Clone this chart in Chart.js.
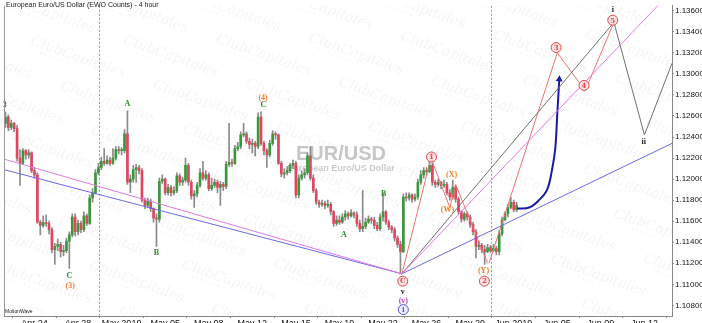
<!DOCTYPE html>
<html>
<head>
<meta charset="utf-8">
<script src="https://cdn.jsdelivr.net/npm/chart.js@4.4.1/dist/chart.umd.min.js"></script>
<style>
  html, body { margin: 0; padding: 0; background: #fff; overflow: hidden; }
  canvas { display: block; }
</style>
</head>
<body>
<canvas id="chart" width="702" height="323"></canvas>
<script>
// EUR/USD 4h candles (open of each bar = previous close)
const firstOpen = 1.1253;
const closes = [
  1.1259, 1.1249, 1.1253, 1.1248, 1.1220, 1.1215, 1.1227, 1.1223, 1.1225, 1.1208,
  1.1204, 1.1159, 1.1156, 1.1159, 1.1158, 1.1152, 1.1133, 1.1136, 1.1138, 1.1131,
  1.1132, 1.1141, 1.1147, 1.1164, 1.1150, 1.1158, 1.1152, 1.1165, 1.1158, 1.1182,
  1.1187, 1.1206, 1.1211, 1.1217, 1.1215, 1.1218, 1.1215, 1.1220, 1.1228, 1.1227,
  1.1227, 1.1243, 1.1197, 1.1200, 1.1209, 1.1211, 1.1208, 1.1180, 1.1175, 1.1179,
  1.1172, 1.1163, 1.1162, 1.1198, 1.1200, 1.1187, 1.1192, 1.1187, 1.1189, 1.1203,
  1.1197, 1.1199, 1.1213, 1.1197, 1.1184, 1.1186, 1.1194, 1.1206, 1.1201, 1.1204,
  1.1191, 1.1194, 1.1197, 1.1192, 1.1195, 1.1193, 1.1214, 1.1216, 1.1215, 1.1229,
  1.1231, 1.1242, 1.1243, 1.1236, 1.1233, 1.1234, 1.1231, 1.1259, 1.1234, 1.1227,
  1.1223, 1.1234, 1.1243, 1.1242, 1.1215, 1.1205, 1.1206, 1.1208, 1.1213, 1.1215,
  1.1185, 1.1201, 1.1204, 1.1206, 1.1222, 1.1201, 1.1189, 1.1178, 1.1176, 1.1177,
  1.1175, 1.1176, 1.1169, 1.1158, 1.1161, 1.1159, 1.1164, 1.1167, 1.1165, 1.1168,
  1.1166, 1.1158, 1.1153, 1.1155, 1.1159, 1.1162, 1.1161, 1.1156, 1.1153, 1.1164,
  1.1169, 1.1159, 1.1154, 1.1152, 1.1144, 1.1138, 1.1131, 1.1183, 1.1182, 1.1185,
  1.1181, 1.1183, 1.1197, 1.1204, 1.1208, 1.1207, 1.1213, 1.1197, 1.1195, 1.1197,
  1.1194, 1.1195, 1.1187, 1.1183, 1.1192, 1.1181, 1.1169, 1.1162, 1.1167, 1.1164,
  1.1157, 1.1150, 1.1136, 1.1137, 1.1133, 1.1131, 1.1135, 1.1132, 1.1134, 1.1131,
  1.1148, 1.1161, 1.1167, 1.1173, 1.1178, 1.1171, 1.1175
];
const highs = [
  1.1264, 1.1261, 1.1256, 1.1254, 1.1251, 1.1228, 1.1229, 1.1228, 1.1228, 1.1226,
  1.1211, 1.1206, 1.1161, 1.1165, 1.1166, 1.1160, 1.1154, 1.1139, 1.1143, 1.1140,
  1.1137, 1.1144, 1.1150, 1.1167, 1.1167, 1.1161, 1.1160, 1.1169, 1.1167, 1.1185,
  1.1191, 1.1209, 1.1215, 1.1221, 1.1229, 1.1222, 1.1221, 1.1229, 1.1231, 1.1231,
  1.1230, 1.1247, 1.1265, 1.1204, 1.1213, 1.1214, 1.1213, 1.1210, 1.1182, 1.1182,
  1.1181, 1.1173, 1.1167, 1.1201, 1.1204, 1.1201, 1.1195, 1.1194, 1.1193, 1.1206,
  1.1205, 1.1202, 1.1220, 1.1215, 1.1199, 1.1189, 1.1197, 1.1210, 1.1217, 1.1208,
  1.1206, 1.1201, 1.1200, 1.1199, 1.1198, 1.1197, 1.1217, 1.1253, 1.1219, 1.1232,
  1.1235, 1.1245, 1.1253, 1.1245, 1.1239, 1.1238, 1.1236, 1.1263, 1.1264, 1.1236,
  1.1229, 1.1237, 1.1246, 1.1245, 1.1243, 1.1217, 1.1210, 1.1212, 1.1215, 1.1218,
  1.1217, 1.1204, 1.1208, 1.1210, 1.1225, 1.1231, 1.1204, 1.1191, 1.1180, 1.1180,
  1.1179, 1.1180, 1.1178, 1.1170, 1.1165, 1.1165, 1.1167, 1.1170, 1.1169, 1.1171,
  1.1169, 1.1169, 1.1161, 1.1189, 1.1163, 1.1165, 1.1164, 1.1164, 1.1159, 1.1167,
  1.1187, 1.1170, 1.1161, 1.1156, 1.1154, 1.1146, 1.1141, 1.1186, 1.1187, 1.1187,
  1.1186, 1.1186, 1.1200, 1.1208, 1.1211, 1.1211, 1.1217, 1.1215, 1.1199, 1.1200,
  1.1198, 1.1199, 1.1197, 1.1190, 1.1199, 1.1194, 1.1183, 1.1170, 1.1169, 1.1169,
  1.1166, 1.1159, 1.1152, 1.1141, 1.1139, 1.1137, 1.1138, 1.1137, 1.1138, 1.1136,
  1.1151, 1.1164, 1.1169, 1.1176, 1.1183, 1.1180, 1.1178
];
const lows = [
  1.1249, 1.1246, 1.1247, 1.1245, 1.1217, 1.1194, 1.1214, 1.1219, 1.1220, 1.1206,
  1.1201, 1.1158, 1.1147, 1.1154, 1.1155, 1.1148, 1.1130, 1.1119, 1.1132, 1.1126,
  1.1127, 1.1130, 1.1115, 1.1145, 1.1146, 1.1147, 1.1149, 1.1150, 1.1156, 1.1157,
  1.1178, 1.1186, 1.1204, 1.1209, 1.1213, 1.1214, 1.1213, 1.1214, 1.1218, 1.1224,
  1.1223, 1.1225, 1.1195, 1.1187, 1.1197, 1.1197, 1.1205, 1.1178, 1.1172, 1.1173,
  1.1169, 1.1159, 1.1136, 1.1159, 1.1196, 1.1185, 1.1185, 1.1184, 1.1185, 1.1187,
  1.1194, 1.1194, 1.1197, 1.1194, 1.1181, 1.1173, 1.1183, 1.1192, 1.1199, 1.1199,
  1.1189, 1.1189, 1.1192, 1.1187, 1.1175, 1.1189, 1.1191, 1.1212, 1.1212, 1.1214,
  1.1227, 1.1229, 1.1240, 1.1234, 1.1229, 1.1225, 1.1222, 1.1229, 1.1232, 1.1223,
  1.1211, 1.1221, 1.1232, 1.1238, 1.1214, 1.1202, 1.1201, 1.1204, 1.1206, 1.1210,
  1.1182, 1.1182, 1.1199, 1.1201, 1.1204, 1.1199, 1.1187, 1.1176, 1.1173, 1.1174,
  1.1172, 1.1173, 1.1166, 1.1155, 1.1156, 1.1157, 1.1158, 1.1161, 1.1162, 1.1164,
  1.1163, 1.1155, 1.1150, 1.1150, 1.1153, 1.1158, 1.1158, 1.1153, 1.1151, 1.1151,
  1.1160, 1.1157, 1.1152, 1.1149, 1.1141, 1.1135, 1.1110, 1.1130, 1.1179, 1.1180,
  1.1178, 1.1179, 1.1181, 1.1195, 1.1201, 1.1204, 1.1206, 1.1194, 1.1192, 1.1193,
  1.1191, 1.1192, 1.1185, 1.1180, 1.1181, 1.1178, 1.1167, 1.1159, 1.1160, 1.1161,
  1.1154, 1.1147, 1.1125, 1.1133, 1.1130, 1.1119, 1.1130, 1.1130, 1.1131, 1.1128,
  1.1128, 1.1146, 1.1161, 1.1164, 1.1172, 1.1169, 1.1169
];

// axis text
const tickLabels = ['Apr 24', 'Apr 28', 'May 2019', 'May 05', 'May 08', 'May 12', 'May 15', 'May 19',
                    'May 22', 'May 26', 'May 29', 'Jun 2019', 'Jun 05', 'Jun 09', 'Jun 12'];
const firstTickBar = 10, barsPerTick = 15, totalBars = 230;
const yTicks = [1.108, 1.110, 1.112, 1.114, 1.116, 1.118, 1.120, 1.122, 1.124, 1.126, 1.128, 1.130, 1.132, 1.134, 1.136];
const yMin = 1.10699, yMax = 1.13647;

// wave count lines: bar index / price
const pinkX = [-0.5, 136.5, 229.5];
const pinkY = [1.1219, 1.1110, 1.1379];
const blueX = [-0.5, 136.5, 229.5];
const blueY = [1.1209, 1.1110, 1.1234];
const greyX = [136.5, 209.5, 220, 229.5];
const greyY = [1.1110, 1.1349, 1.1242, 1.1310];
const corrX = [136.5, 146.5, 153, 155, 166];
const corrY = [1.1110, 1.1220, 1.1173, 1.1195, 1.1120];
const impX = [166.5, 190, 199.6, 209.5];
const impY = [1.1120, 1.1320, 1.1284, 1.1349];
const arrowX = [176.2, 180.3, 183.7, 186.5, 188.2, 189.3, 190, 190.7];
const arrowY = [1.1172, 1.1173, 1.1180, 1.1190, 1.1209, 1.1229, 1.1262, 1.1295];

// labels: text, bar, price, colour, circled
const waveLabels = [
  ['3', -0.2, 1.1271, '#2e8b2e', false],
  ['A', 42, 1.1272, '#2e8b2e', false],
  ['B', 52, 1.1130, '#2e8b2e', false],
  ['C', 22, 1.1108, '#2e8b2e', false],
  ['(3)', 22.3, 1.1099, '#e8822a', false],
  ['(4)', 88.7, 1.1278, '#e8822a', false],
  ['C', 88.8, 1.1271, '#2e8b2e', false],
  ['A', 116.5, 1.1147, '#2e8b2e', false],
  ['B', 130.2, 1.1186, '#2e8b2e', false],
  ['C', 136.8, 1.1103, '#e04848', true],
  ['v', 136.8, 1.1093, '#222222', false],
  ['(v)', 137, 1.1085, '#c040c0', false],
  ['i', 137, 1.1076, '#5555dd', true],
  ['1', 146.7, 1.1221, '#e04848', true],
  ['(X)', 153.6, 1.1204, '#e8822a', false],
  ['(W)', 152.2, 1.1171, '#e8822a', false],
  ['(Y)', 164.6, 1.1113, '#e8822a', false],
  ['2', 164.9, 1.1103, '#e04848', true],
  ['3', 189.6, 1.1325, '#e04848', true],
  ['4', 199.2, 1.1289, '#e04848', true],
  ['5', 209.1, 1.1351, '#e04848', true],
  ['i', 209.1, 1.1361, '#222222', false],
  ['ii', 219.8, 1.1236, '#222222', false]
];

const opens = closes.map((c, i) => i === 0 ? firstOpen : closes[i - 1]);
const pts = (xs, ys) => xs.map((x, i) => ({ x: x, y: ys[i] }));

function lineSet(xs, ys, color, width) {
  return {
    type: 'line', data: pts(xs, ys), borderColor: color, borderWidth: width,
    pointRadius: 0, fill: false, tension: 0, order: 0
  };
}

const backdrop = {
  id: 'backdrop',
  beforeDatasetsDraw(chart) {
    const { ctx, chartArea: a } = chart;
    ctx.save();
    ctx.beginPath();
    ctx.rect(a.left, a.top, a.right - a.left, a.bottom - a.top);
    ctx.clip();
    ctx.rotate(0.34);
    ctx.fillStyle = 'rgba(175,160,165,0.11)';
    for (let r = -14; r < 16; r++) {
      for (let c = -3; c < 9; c++) {
        const x = c * 130 + (r % 3) * 43;
        const y = r * 32;
        ctx.font = 'italic 14px "DejaVu Serif"';
        ctx.fillText('ClubCapitales', x, y);
        ctx.font = '7px Arial';
        ctx.fillText('* * * * * * * *', x + 12, y + 8);
      }
    }
    ctx.restore();

    ctx.save();
    ctx.textAlign = 'center';
    ctx.fillStyle = '#c6c6c6';
    ctx.font = 'bold 20px Arial';
    ctx.fillText('EUR/USD', 341, 160);
    ctx.font = 'bold 9px Arial';
    ctx.fillStyle = '#cbcbcb';
    ctx.fillText('European Euro/US Dollar', 341, 171);
    ctx.restore();
  },
  afterDatasetsDraw(chart) {
    const { ctx, scales: { x, y } } = chart;
    ctx.save();
    ctx.textAlign = 'center';
    ctx.textBaseline = 'middle';
    waveLabels.forEach(([t, bx, p, col, circ]) => {
      const px = x.getPixelForValue(bx), py = y.getPixelForValue(p);
      if (circ) {
        ctx.beginPath();
        ctx.arc(px, py, 5, 0, Math.PI * 2);
        ctx.fillStyle = col === '#5555dd' ? '#eeeefe' : '#fde4e4';
        ctx.fill();
        ctx.lineWidth = 1;
        ctx.strokeStyle = col;
        ctx.stroke();
        ctx.font = 'bold 7px "DejaVu Serif"';
      } else {
        ctx.font = 'bold 8px "Liberation Serif"';
      }
      ctx.fillStyle = col;
      ctx.fillText(t, px, py + 0.5);
    });
    ctx.restore();
  },
  afterDraw(chart) {
    const { ctx, chartArea: a } = chart;
    ctx.save();
    ctx.strokeStyle = '#999';
    ctx.lineWidth = 1;
    ctx.beginPath();
    ctx.moveTo(a.left + 0.5, a.top);
    ctx.lineTo(a.left + 0.5, a.bottom);
    ctx.stroke();
    ctx.fillStyle = '#222';
    ctx.font = '7px Arial';
    ctx.textBaseline = 'top';
    ctx.fillText('European Euro/US Dollar (EWO Counts) - 4 hour', 6, 2);
    ctx.font = '5px Arial';
    ctx.fillText('MotionWave', 5, 309);
    ctx.restore();
  }
};

Chart.defaults.font.family = 'Arial, "Liberation Sans", sans-serif';

new Chart(document.getElementById('chart').getContext('2d'), {
  data: {
    datasets: [
      lineSet(pinkX, pinkY, '#e27ae2', 1),
      lineSet(blueX, blueY, '#6a6ae6', 1),
      lineSet(greyX, greyY, '#707070', 1),
      lineSet(corrX, corrY, '#ea7272', 1),
      lineSet(impX, impY, '#ea7272', 1),
      {
        type: 'line', data: pts(arrowX, arrowY), borderColor: '#1a1aa8', borderWidth: 2,
        tension: 0.4, fill: false, order: 0,
        pointRadius: arrowX.map((v, i) => i === arrowX.length - 1 ? 4 : 0),
        pointStyle: 'triangle', pointBackgroundColor: '#1a1aa8', pointBorderWidth: 0, pointRotation: 4
      },
      {
        type: 'bar', order: 1, grouped: false, barThickness: 2, minBarLength: 1,
        data: closes.map((c, i) => ({ x: i, y: [opens[i], c] })),
        backgroundColor: closes.map((c, i) => c >= opens[i] ? '#3a983a' : '#e0475f'),
        borderWidth: 0
      },
      {
        type: 'bar', order: 2, grouped: false, barThickness: 1,
        data: closes.map((c, i) => ({ x: i, y: [lows[i], highs[i]] })),
        backgroundColor: '#8a8a8a', borderWidth: 0
      }
    ]
  },
  options: {
    responsive: false,
    animation: false,
    events: [],
    devicePixelRatio: 1,
    layout: { padding: { left: 3, top: 0, right: 0, bottom: 0 } },
    plugins: { legend: { display: false }, tooltip: { enabled: false } },
    scales: {
      x: {
        type: 'linear', position: 'bottom', min: -0.5, max: totalBars - 0.5, offset: false,
        afterBuildTicks: s => { s.ticks = tickLabels.map((t, k) => ({ value: firstTickBar + k * barsPerTick })); },
        afterFit: s => { s.height = 7; },
        ticks: {
          autoSkip: false, maxRotation: 0, padding: 0, color: '#111', font: { size: 9 },
          callback: (v, k) => tickLabels[k]
        },
        grid: {
          color: c => (c.tick && tickLabels[c.index] && tickLabels[c.index].includes('2019')) ? '#9a9a9a' : 'rgba(0,0,0,0)',
          tickColor: '#888', tickLength: 2, lineWidth: 1
        },
        border: { color: '#888', dash: [2, 2] }
      },
      y: {
        type: 'linear', position: 'right', min: yMin, max: yMax,
        afterBuildTicks: s => { s.ticks = yTicks.map(v => ({ value: v })); },
        afterFit: s => { s.width = 30; },
        ticks: { padding: 1, color: '#111', font: { size: 8 }, callback: v => v.toFixed(5) },
        grid: { drawOnChartArea: false, tickLength: 2, tickColor: '#888' },
        border: { color: '#888' }
      }
    }
  },
  plugins: [backdrop]
});
</script>
</body>
</html>
